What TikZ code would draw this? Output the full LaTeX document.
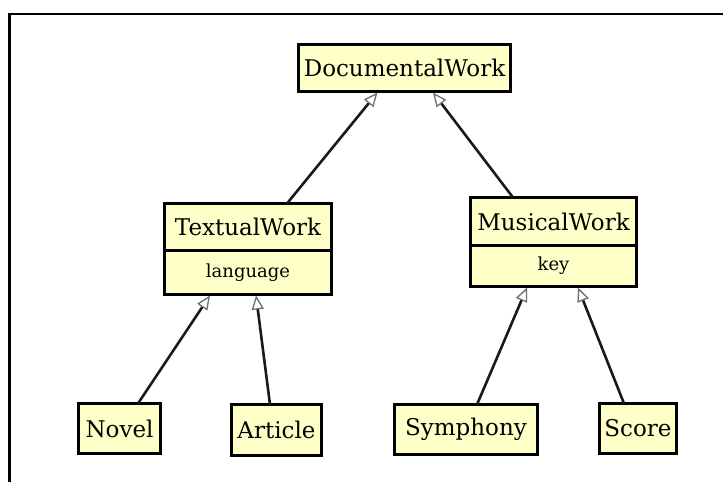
\documentclass[tikz,border=0pt]{standalone}
\usepackage{fontspec}
\setmainfont{DejaVu Serif}
\usetikzlibrary{arrows.meta}
\definecolor{boxfill}{RGB}{255,255,200}
\definecolor{tipgray}{RGB}{110,110,110}
\tikzset{
  cls/.style={draw=black, line width=3pt, fill=boxfill, inner sep=0pt, outer sep=0pt,
    font=\fontsize{23}{26}\selectfont, anchor=center},
  attr/.style={cls, font=\fontsize{18}{21}\selectfont},
  inh/.style={line width=2.6pt, draw=black!90,
    -{Triangle[open, length=14pt, width=12pt, line width=1.3pt, color=tipgray]}},
  frameline/.style={line width=2.6pt, draw=black}
}
\begin{document}
\begin{tikzpicture}[x=1pt, y=-1pt]
\useasboundingbox[fill=white] (0,0) rectangle (723,482);
\draw[frameline] (9.5,482) -- (9.5,14) -- (723,14);

\node[cls, minimum width=212pt, minimum height=47pt] (dw) at (404.5,68) {DocumentalWork};

\node[cls, minimum width=167pt, minimum height=47pt] (tw) at (248,227) {TextualWork};
\node[attr, minimum width=167pt, minimum height=44pt, anchor=north] (twa) at (tw.south) {language};

\node[cls, minimum width=166pt, minimum height=48pt] (mw) at (553.5,221.5) {MusicalWork};
\node[attr, minimum width=166pt, minimum height=41pt, anchor=north] (mwa) at (mw.south) {key};

\node[cls, minimum width=82pt, minimum height=50pt] (nv) at (119.5,428.5) {Novel};
\node[cls, minimum width=90pt, minimum height=51pt] (ar) at (276.5,430) {Article};
\node[cls, minimum width=143pt, minimum height=50pt] (sy) at (466,429.5) {Symphony};
\node[cls, minimum width=77pt, minimum height=50pt] (sc) at (638,428.5) {Score};

\draw[inh] ([xshift=39pt]tw.north) -- ([xshift=-27pt, yshift=-1pt]dw.south);
\draw[inh] ([xshift=-40.5pt]mw.north) -- ([xshift=28.5pt, yshift=-1pt]dw.south);
\draw[inh] ([xshift=18.5pt]nv.north) -- ([xshift=-38pt, yshift=-1pt]twa.south);
\draw[inh] ([xshift=-6.5pt]ar.north) -- ([xshift=8pt, yshift=-1pt]twa.south);
\draw[inh] ([xshift=11pt]sy.north) -- ([xshift=-26.5pt, yshift=-1pt]mwa.south);
\draw[inh] ([xshift=-14pt]sc.north) -- ([xshift=24.5pt, yshift=-1pt]mwa.south);
\end{tikzpicture}
\end{document}
